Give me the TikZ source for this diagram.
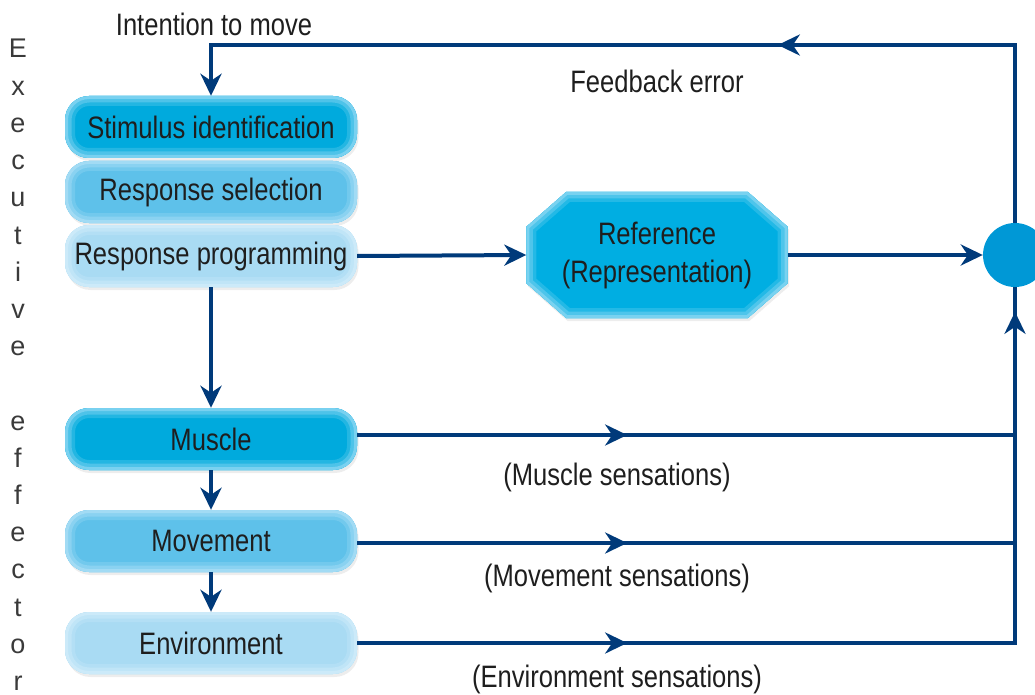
\documentclass[tikz,border=0pt]{standalone}
\usepackage{fontspec}
\setmainfont{Liberation Sans}
\newfontfamily\condfont[FakeStretch=0.825]{Liberation Sans}
\usetikzlibrary{arrows.meta,decorations.markings,calc,shadows,backgrounds}
\definecolor{navy}{HTML}{003A7A}
\definecolor{txt}{HTML}{1E1E1E}
\definecolor{side}{HTML}{3A3A3A}
\definecolor{cA}{HTML}{00AADD}
\definecolor{cAe}{HTML}{8ED8F3}
\definecolor{cB}{HTML}{5EC1EA}
\definecolor{cBe}{HTML}{AEE0F6}
\definecolor{cC}{HTML}{A9DBF3}
\definecolor{cCe}{HTML}{D2EDFA}
\definecolor{octc}{HTML}{00AEE2}
\definecolor{octe}{HTML}{8ED8F3}
\definecolor{sumc}{HTML}{0098D6}
\newcommand\myoctpath{($(ref.north west)+(40,0)$) -- ($(ref.north east)+(-40,0)$) -- ($(ref.north east)+(0,35)$)
  -- ($(ref.south east)+(0,-35)$) -- ($(ref.south east)+(-40,0)$) -- ($(ref.south west)+(40,0)$)
  -- ($(ref.south west)+(0,-35)$) -- ($(ref.north west)+(0,35)$) -- cycle}
\begin{document}
\begin{tikzpicture}[x=1pt,y=-1pt,
  lbl/.style={font=\condfont\fontsize{31}{36}\selectfont, text=txt, inner sep=0pt},
  ppb/.style={rounded corners=24pt},
  box/.style 2 args={lbl, rounded corners=24pt, minimum width=292pt, minimum height=62pt,
    fill=#1, drop shadow={opacity=0.14,shadow xshift=1.5pt,shadow yshift=-3pt},
    path picture={
      \draw[#2!25!#1, line width=20pt, ppb]
        (path picture bounding box.south west) rectangle (path picture bounding box.north east);
      \draw[#2!55!#1, line width=13pt, ppb]
        (path picture bounding box.south west) rectangle (path picture bounding box.north east);
      \draw[#2!85!#1, line width=6pt, ppb]
        (path picture bounding box.south west) rectangle (path picture bounding box.north east);}},
  boxA/.style={box={cA}{cAe}},
  boxB/.style={box={cB}{cBe}},
  boxC/.style={box={cC}{cCe}},
  conn/.style={draw=navy, color=navy, line width=4pt},
  tip/.style={-{Stealth[length=22pt,width=21pt,inset=7pt]}},
  midarrow/.style={postaction={decorate}, decoration={markings,
    mark=at position #1 with {\arrow{Stealth[length=22pt,width=21pt,inset=7pt]}}}},
  sidel/.style={font=\fontsize{27}{30}\selectfont, text=side, inner sep=0pt, anchor=base}
]
\useasboundingbox (0,0) rectangle (1035,695);

% vertical side text
\foreach \k/\l in {0/E,1/x,2/e,3/c,4/u,5/t,6/i,7/v,8/e,10/e,11/f,12/f,13/e,14/c,15/t,16/o,17/r}
  \node[sidel] (v\k) at (18,{58+37.2*\k}) {\l};

% left column boxes
\node[boxA] (si) at (211,127) {Stimulus identification};
\node[boxB] (rs) at (211,192) {Response selection};
\node[boxC] (rp) at (211,256) {Response programming};
\node[boxA] (mus) at (211,439) {Muscle};
\node[boxB] (mov) at (211,541) {Movement};
\node[boxC] (env) at (211,643) {Environment};

% reference octagon
\node[lbl, align=center, font=\condfont\fontsize{31}{38}\selectfont, minimum width=261pt, minimum height=126pt]
  (ref) at (657,255) {Reference\\(Representation)};
\begin{scope}[on background layer]
  \fill[octc, drop shadow={opacity=0.14,shadow xshift=1.5pt,shadow yshift=-3pt}] \myoctpath;
  \begin{scope}
    \clip \myoctpath;
    \draw[octe!25!octc, line width=20pt, line join=miter] \myoctpath;
    \draw[octe!55!octc, line width=13pt, line join=miter] \myoctpath;
    \draw[octe!85!octc, line width=6pt, line join=miter] \myoctpath;
  \end{scope}
\end{scope}

% comparator circle
\node[circle, fill=sumc, minimum size=64pt, inner sep=0pt] (sum) at (1015,255) {};

% labels
\node[lbl] (intent) at (214,24) {Intention to move};
\node[lbl] (fberr) at (657,81) {Feedback error};
\node[lbl] (lmus) at (617,477) {(Muscle sensations)};
\node[lbl] (lmov) at (617,578) {(Movement sensations)};
\node[lbl] (lenv) at (617,679) {(Environment sensations)};

% coordinates
\coordinate (tr) at (1015,45);
\coordinate (tl) at (211,45);
\coordinate (jm) at (1015,435);
\coordinate (jv) at (1015,543);
\coordinate (je) at (1015,643);

% connectors
\draw[conn, tip] (rp.east) -- (ref.west);
\draw[conn, tip] (ref.east) -- (sum.west);
\draw[conn, tip] (rp.south) -- (mus.north);
\draw[conn, tip] (mus.south) -- (mov.north);
\draw[conn, tip] (mov.south) -- (env.north);
\draw[conn, tip, midarrow=415pt] (sum.north) -- (tr) -- (tl) -- (si.north);
\draw[conn, midarrow=270pt] (mus.east |- jm) -- (jm);
\draw[conn, midarrow=270pt] (mov.east |- jv) -- (jv);
\draw[conn, postaction={decorate}, decoration={markings,
    mark=at position 270pt with {\arrow{Stealth[length=22pt,width=21pt,inset=7pt]}},
    mark=at position 989pt with {\arrow{Stealth[length=22pt,width=21pt,inset=7pt]}}}]
  (env.east) -- (je) -- (sum.south);
\end{tikzpicture}
\end{document}
